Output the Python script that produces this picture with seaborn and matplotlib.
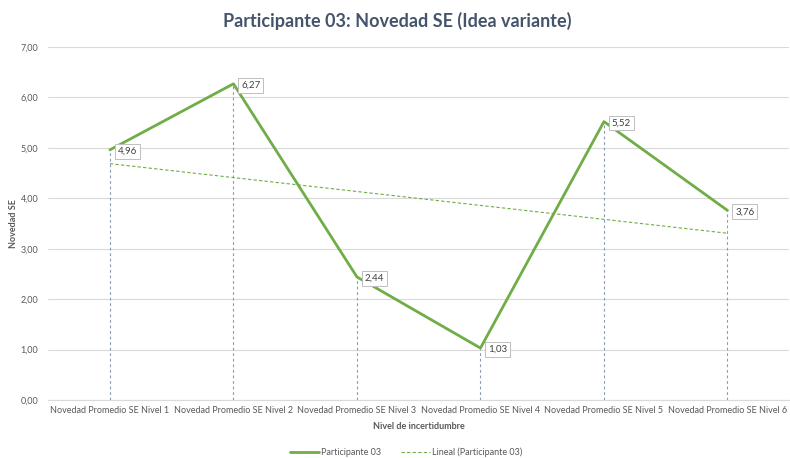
import numpy as np
import pandas as pd
import matplotlib
matplotlib.use("Agg")
import matplotlib.pyplot as plt
import seaborn as sns
from matplotlib.lines import Line2D

categories = ["Novedad Promedio SE Nivel 1", "Novedad Promedio SE Nivel 2",
              "Novedad Promedio SE Nivel 3", "Novedad Promedio SE Nivel 4",
              "Novedad Promedio SE Nivel 5", "Novedad Promedio SE Nivel 6"]
values = [4.96, 6.27, 2.44, 1.03, 5.52, 3.76]
series_name = "Participante 03"
trend_name = "Lineal (Participante 03)"
title = "Participante 03: Novedad SE (Idea variante)"
x_label = "Nivel de incertidumbre"
y_label = "Novedad SE"
y_ticks = [0, 1, 2, 3, 4, 5, 6, 7]

sns.set_theme(style="white")
plt.rcParams['font.family'] = ['Lato', 'DejaVu Sans']

GREEN = "#70AD47"
TXT = "#595959"
DROP = "#8C9AB0"

df = pd.DataFrame({"pos": np.arange(len(categories)), "value": values})

fig = plt.figure(figsize=(7.9, 4.58), dpi=100)
ax = fig.add_axes([0.061, 0.1266, 0.938, 0.7708])

# drop lines
ax.vlines(df["pos"], 0, df["value"], colors=DROP, linestyles=(0, (2.5, 2.5)), linewidth=0.8, zorder=2)

sns.lineplot(data=df, x="pos", y="value", ax=ax, color=GREEN, linewidth=2.0,
             zorder=4, legend=False)

# linear trend line
coef = np.polyfit(df["pos"], df["value"], 1)
ax.plot(df["pos"], np.polyval(coef, df["pos"]), color=GREEN, linestyle=(0, (3, 2)),
        linewidth=0.8, zorder=3)

# data labels
for xp, v in zip(df["pos"], df["value"]):
    ax.annotate(f"{v:.2f}".replace(".", ","), (xp, v), xytext=(5.5, -1),
                textcoords="offset points", ha="left", va="center",
                fontsize=7, color="#404040", zorder=6,
                bbox=dict(boxstyle="square,pad=0.3", fc="white", ec="#BFBFBF", lw=0.7))

ax.set_xlim(-0.5, len(categories) - 0.5)
ax.set_ylim(0, 7)
ax.set_yticks(y_ticks)
ax.set_yticklabels([f"{t:.2f}".replace(".", ",") for t in y_ticks])
ax.set_xticks(df["pos"])
ax.set_xticklabels(categories)
ax.tick_params(axis="both", length=0, labelsize=6.5, colors=TXT, pad=4)
ax.tick_params(axis="y", pad=7)
# category boundary ticks
ax.set_xticks(np.arange(-0.5, len(categories), 1), minor=True)
ax.tick_params(axis="x", which="minor", length=4, color="#D9D9D9", width=0.8)

ax.grid(axis="y", color="#D9D9D9", linewidth=0.8)
ax.set_axisbelow(True)
for s in ["top", "right", "left"]:
    ax.spines[s].set_visible(False)
ax.spines["bottom"].set_color("#D9D9D9")
ax.spines["bottom"].set_linewidth(0.8)

ax.set_xlabel(x_label, fontsize=6.5, fontweight="bold", color=TXT, labelpad=5)
ax.set_ylabel(y_label, fontsize=6.5, fontweight="bold", color=TXT, labelpad=2)

fig.suptitle(title, x=0.503, y=0.975, fontsize=13, fontweight="bold", color="#44546A")

handles = [Line2D([], [], color=GREEN, linewidth=2.0),
           Line2D([], [], color=GREEN, linewidth=0.8, linestyle=(0, (3, 2)))]
leg = fig.legend(handles, [series_name, trend_name], loc="center", ncol=2,
                 bbox_to_anchor=(0.514, 0.013), frameon=False, fontsize=6.5,
                 handlelength=3.2, handletextpad=0.2, columnspacing=2.2)
for t in leg.get_texts():
    t.set_color(TXT)

fig.savefig("out.png", dpi=100, facecolor="white")
